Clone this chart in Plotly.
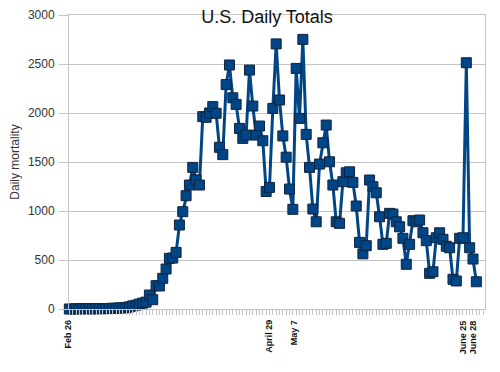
import plotly.graph_objects as go

# Daily mortality, Feb 26 .. June 28 (one value per day)
deaths = [
    0, 0, 0, 1, 1, 5, 1, 4, 1, 3,            # Feb 26 - Mar 6
    4, 3, 4, 5, 8, 7, 11, 12, 12, 22,        # Mar 7 - Mar 16
    32, 39, 50, 60, 70, 143, 95, 238, 235, 313,   # Mar 17 - Mar 26
    408, 517, 520, 578, 857, 993, 1156, 1265, 1445, 1318,  # Mar 27 - Apr 5
    1265, 1963, 1956, 2000, 2065, 1997, 1650, 1575, 2290, 2490,  # Apr 6 - Apr 15
    2155, 2088, 1843, 1741, 1775, 2438, 2071, 1775, 1867, 1717,  # Apr 16 - Apr 25
    1199, 1241, 2047, 2705, 2133, 1766, 1549, 1224, 1017, 2455,  # Apr 26 - May 5
    1945, 2751, 1782, 1445, 1020, 890, 1479, 1696, 1877, 1502,   # May 6 - May 15
    1265, 890, 874, 1299, 1390, 1400, 1292, 1051, 680, 563,      # May 16 - May 25
    646, 1316, 1248, 1186, 941, 660, 670, 976, 969, 890,         # May 26 - Jun 4
    839, 721, 456, 660, 901, 890, 908, 778, 697, 364,            # Jun 5 - Jun 14
    380, 727, 778, 711, 640, 625, 303, 286, 721, 727,            # Jun 15 - Jun 24
    2513, 625, 510, 278,                                          # Jun 25 - Jun 28
]
day_index = list(range(len(deaths)))

label_days = [63, 71, 120, 123]
label_text = ["April 29", "May 7", "June 25", "June 28"]
first_label = "Feb 26"

y_ticks = [0, 500, 1000, 1500, 2000, 2500, 3000]

BLUE = "#004586"
GRID = "#c4c4c4"
LABEL_FONT = dict(family="Liberation Sans", size=9, color="#111111", weight="bold")
label_shift = [-8, -9, -3, -3]

fig = go.Figure()
fig.add_trace(go.Scatter(
    x=day_index, y=deaths, mode="lines+markers",
    line=dict(color=BLUE, width=3),
    marker=dict(symbol="square", size=10, color=BLUE,
                line=dict(color="#10233d", width=1)),
    cliponaxis=False, showlegend=False,
))

fig.add_annotation(x=0, y=0, xref="x domain", yref="paper", text=first_label,
                   showarrow=False, textangle=-90, xanchor="center", yanchor="top",
                   xshift=-2, yshift=-9, font=LABEL_FONT)
for d, t, s in zip(label_days, label_text, label_shift):
    fig.add_annotation(
        x=d, y=0, xref="x", yref="paper", text=t, showarrow=False,
        textangle=-90, xanchor="center", yanchor="top", xshift=s, yshift=-9,
        font=LABEL_FONT,
    )

fig.update_layout(
    width=492, height=364,
    margin=dict(l=61, r=15, t=7, b=63),
    paper_bgcolor="white", plot_bgcolor="white",
    title=dict(text="U.S. Daily Totals", x=259 / 492, xanchor="center",
               y=1 - 9 / 364, yanchor="middle",
               font=dict(family="Liberation Sans", size=18, color="#111111")),
    font=dict(family="Liberation Sans"),
    xaxis=dict(range=[0.9, 125.6], tickvals=list(range(1, 126)),
               ticktext=[""] * 125, ticks="outside", ticklen=5, tickwidth=1,
               tickcolor=GRID, showgrid=False, zeroline=False, automargin=False,
               showline=True, linecolor=GRID, mirror=True),
    yaxis=dict(range=[0, 3000], tickvals=y_ticks, showgrid=True, gridcolor=GRID,
               zeroline=False, showline=True, linecolor=GRID, mirror=True,
               automargin=False,
               ticks="outside", ticklen=9, tickcolor=GRID, ticklabelstandoff=2,
               tickfont=dict(family="Liberation Sans", size=12, color="#333333"),
               title=dict(text="Daily mortality", standoff=10,
                          font=dict(family="Liberation Sans", size=12, color="#333333"))),
)

fig.write_html("out.html")
